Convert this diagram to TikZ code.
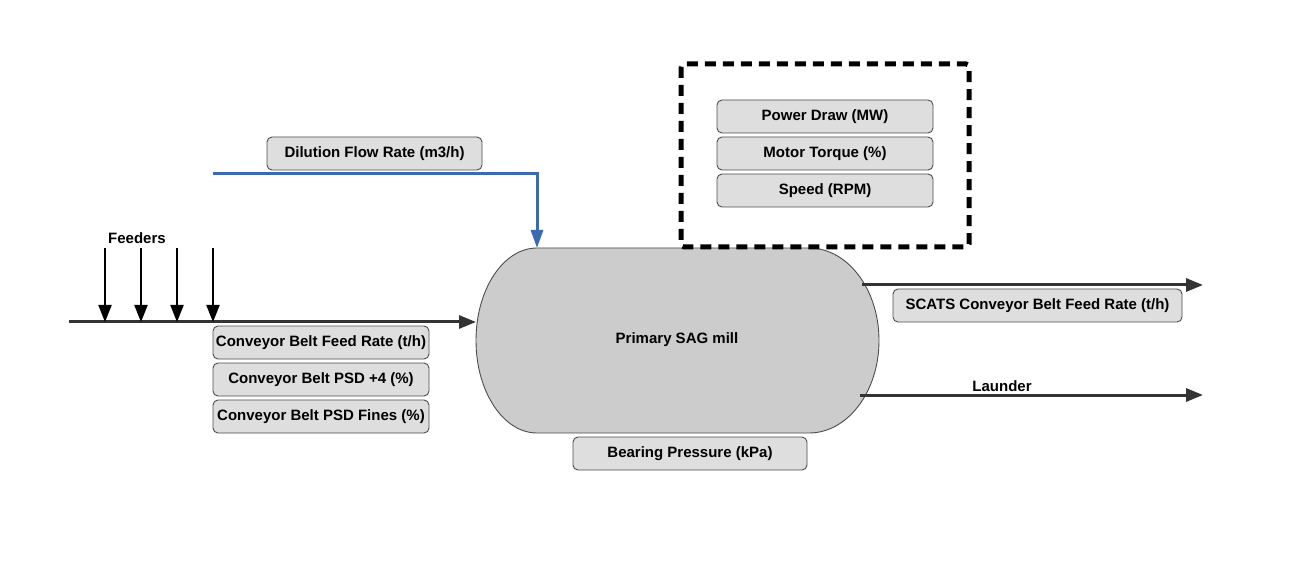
\documentclass[tikz,border=0pt]{standalone}
\usepackage{fontspec}
\setmainfont{Liberation Sans}
\usetikzlibrary{arrows.meta}
\definecolor{boxfill}{HTML}{DEDEDE}
\definecolor{boxline}{HTML}{4D4D4D}
\definecolor{millfill}{HTML}{CCCCCC}
\definecolor{flowgray}{HTML}{333333}
\definecolor{flowblue}{HTML}{3A6BB0}
\begin{document}
\begin{tikzpicture}[x=1pt,y=-1pt,
  every node/.style={font=\fontsize{15}{18}\selectfont\bfseries, inner sep=0pt},
  tagbox/.style={draw=boxline, line width=0.9pt, fill=boxfill, rounded corners=5pt, minimum height=33pt},
  flow/.style={draw=flowgray, line width=3pt, -{Triangle[length=17pt,width=13pt]}},
  feed/.style={draw=black, line width=2pt, -{Triangle[length=17pt,width=13pt]}},
  water/.style={draw=flowblue, line width=3pt, -{Triangle[length=18pt,width=12pt]}}]
\useasboundingbox (0,0) rectangle (1293,569);
\fill[white] (0,0) rectangle (1293,569);
% mill
\draw[boxline, line width=0.9pt, fill=millfill]
  (537,248) -- (809,248) arc (-90:90:70 and 92.5) -- (537,433) arc (90:270:61 and 92.5) -- cycle;
\node (mill) at (677,340) {Primary SAG mill};
\coordinate (millTop) at (537,248);
\coordinate (millLeft) at (476,322);
\coordinate (millOut1) at (862,285);
\coordinate (millOut2) at (860,395);
% dashed group
\draw[black, line width=5pt, dash pattern=on 11pt off 7pt, rounded corners=3pt] (681,64) rectangle (969,247);
% boxes
\node[tagbox, minimum width=215pt] (dil) at (374.5,153.5) {Dilution Flow Rate (m3/h)};
\node[tagbox, minimum width=216pt] (cb1) at (321,342.5) {Conveyor Belt Feed Rate (t/h)};
\node[tagbox, minimum width=216pt] (cb2) at (321,379.5) {Conveyor Belt PSD +4 (\%)};
\node[tagbox, minimum width=216pt] (cb3) at (321,416.5) {Conveyor Belt PSD Fines (\%)};
\node[tagbox, minimum width=216pt] (pd) at (825,116.5) {Power Draw (MW)};
\node[tagbox, minimum width=216pt] (mt) at (825,153.5) {Motor Torque (\%)};
\node[tagbox, minimum width=216pt] (sp) at (825,190.5) {Speed (RPM)};
\node[tagbox, minimum width=289pt] (scats) at (1037.5,305.5) {SCATS Conveyor Belt Feed Rate (t/h)};
\node[tagbox, minimum width=234pt] (bp) at (690,453.5) {Bearing Pressure (kPa)};
% labels
\node (feeders) at (137,238) {Feeders};
\node (launder) at (1002,386) {Launder};
% dilution water
\coordinate (wstart) at (213,174);
\coordinate (wbend) at (537,174);
\draw[water] (wstart) -- (wbend) -- (millTop);
% conveyor
\coordinate (cstart) at (69,322);
\draw[flow] (cstart) -- (millLeft);
% feeders
\foreach \i/\x in {1/105,2/141,3/177,4/213}{
  \coordinate (f\i) at (\x,248);
  \coordinate (g\i) at (\x,322);
  \draw[feed] (f\i) -- (g\i);
}
% outputs
\coordinate (out1) at (1203,285);
\coordinate (out2) at (1203,395);
\draw[flow] (millOut1) -- (out1);
\draw[flow] (millOut2) -- (out2);
\end{tikzpicture}
\end{document}
